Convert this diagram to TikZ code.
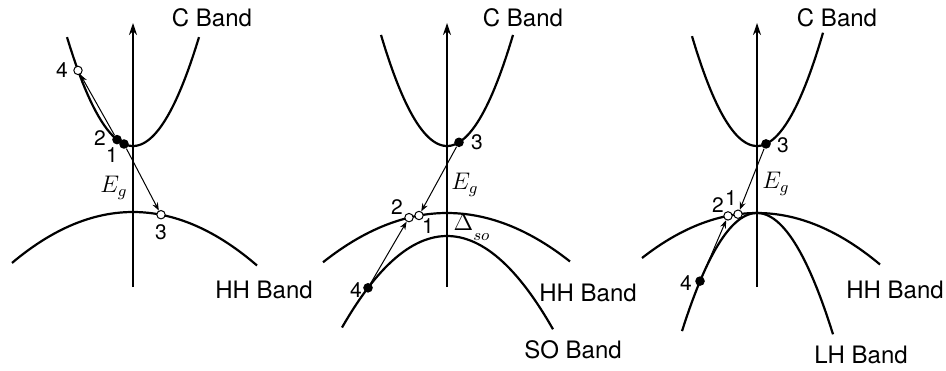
\documentclass[tikz,border=0pt]{standalone}
\usepackage[no-math]{fontspec}
\setmainfont{TeX Gyre Heros}
\usetikzlibrary{positioning,arrows.meta}

\begin{document}
\begin{tikzpicture}[
  x=0.5pt,y=-0.5pt,
  >={Stealth[length=4pt,width=3pt]},
  band/.style={line width=1.1pt},
  axis/.style={-{Stealth[length=6pt,width=4pt]},line width=0.6pt},
  trans/.style={->,line width=0.5pt},
  fdot/.style={circle,fill=black,inner sep=0pt,minimum size=4.8pt},
  hdot/.style={circle,draw=black,fill=white,line width=0.5pt,inner sep=0pt,minimum size=4.2pt},
  bandlbl/.style={font=\fontsize{12}{14}\selectfont,inner sep=0pt},
  num/.style={font=\fontsize{10.5}{12}\selectfont,inner sep=0pt},
  gap/.style={font=\fontsize{11.5}{13}\selectfont,inner sep=0pt},
]
\useasboundingbox (0,0) rectangle (946,370);

% ===== left panel: C / HH =====
\coordinate (axA0) at (133,287);
\coordinate (axA1) at (133,23);
\draw[axis] (axA0) -- (axA1);
\draw[band] plot[domain=67:199,samples=60] (\x,{146-0.025*(\x-133)^2});
\draw[band] plot[domain=12:257,samples=60] (\x,{212+0.00348*(\x-133)^2});
\node[hdot] (a4) at (78,70.4) {};
\node[fdot] (a2) at (117,139.6) {};
\node[fdot] (a1) at (124,144) {};
\node[hdot] (a3) at (161,214.7) {};
\draw[trans] (a1) -- (a3);
\draw[trans] (a2) -- (a4);
\node[num] (a4l) at (62,70) {4};
\node[num] (a2l) at (100,138) {2};
\node[num] (a1l) at (112,155) {1};
\node[num] (a3l) at (161,232) {3};
\node[gap] (egA) at (114,188) {$E_g$};
\node[bandlbl] (cbA) at (212,18) {C Band};
\node[bandlbl] (hhA) at (264,290) {HH Band};

% ===== middle panel: C / HH / SO =====
\coordinate (axB0) at (447,287);
\coordinate (axB1) at (447,23);
\draw[axis] (axB0) -- (axB1);
\draw[band] plot[domain=381:513,samples=60] (\x,{146-0.0255*(\x-447)^2});
\draw[band] plot[domain=323:570,samples=60] (\x,{213+0.0032*(\x-447)^2});
\draw[band] plot[domain=342:553,samples=60] (\x,{236+0.0083*(\x-447)^2});
\node[fdot] (b3) at (459,142.3) {};
\node[hdot] (b1) at (419,215.5) {};
\node[hdot] (b2) at (409,217.6) {};
\node[fdot] (b4) at (368,287.8) {};
\draw[trans] (b3) -- (b1);
\draw[trans] (b4) -- (b2);
\node[num] (b3l) at (477,142) {3};
\node[num] (b2l) at (397,207) {2};
\node[num] (b1l) at (428,226) {1};
\node[num] (b4l) at (356,290) {4};
\node[gap] (egB) at (465,185) {$E_g$};
\node[gap] (soB) at (472,227) {$\Delta_{\raisebox{-3pt}{$\scriptstyle so$}}$};
\node[bandlbl] (cbB) at (523,18) {C Band};
\node[bandlbl] (hhB) at (588,293) {HH Band};
\node[bandlbl] (sbB) at (573,350) {SO Band};

% ===== right panel: C / HH / LH =====
\coordinate (axC0) at (757,287);
\coordinate (axC1) at (757,23);
\draw[axis] (axC0) -- (axC1);
\draw[band] plot[domain=692:823,samples=60] (\x,{146-0.026*(\x-757)^2});
\draw[band] plot[domain=642:880,samples=60] (\x,{213+0.0034*(\x-757)^2});
\draw[band] plot[domain=682:833,samples=60] (\x,{213+0.021*(\x-757)^2});
\node[fdot] (c3) at (766,143.9) {};
\node[hdot] (c1) at (738,214.2) {};
\node[hdot] (c2) at (728,215.9) {};
\node[fdot] (c4) at (700,281.1) {};
\draw[trans] (c3) -- (c1);
\draw[trans] (c4) -- (c2);
\node[num] (c3l) at (783,145) {3};
\node[num] (c2l) at (718,205) {2};
\node[num] (c1l) at (731,198) {1};
\node[num] (c4l) at (686,283) {4};
\node[gap] (egC) at (776,184) {$E_g$};
\node[bandlbl] (cbC) at (837,18) {C Band};
\node[bandlbl] (hhC) at (895,290) {HH Band};
\node[bandlbl] (lhC) at (861,355) {LH Band};
\end{tikzpicture}
\end{document}
